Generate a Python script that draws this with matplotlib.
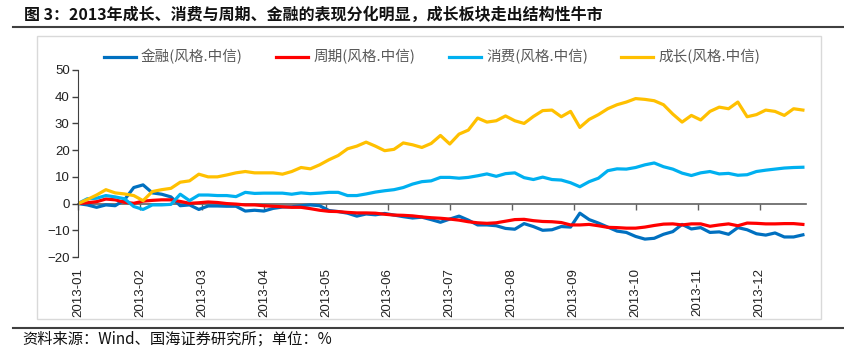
import numpy as np
import matplotlib
matplotlib.use('Agg')
import matplotlib.pyplot as plt
from matplotlib.patches import Rectangle
from matplotlib.lines import Line2D

plt.rcParams['font.family'] = ['Liberation Sans', 'Noto Sans CJK SC', 'DejaVu Sans']

# 数据：2013年各风格指数累计涨跌幅(%)，每3个交易日取一个点
step = 3
months = ['2013-01', '2013-02', '2013-03', '2013-04', '2013-05', '2013-06',
          '2013-07', '2013-08', '2013-09', '2013-10', '2013-11', '2013-12']
month_pos = [0, 20, 40, 60, 80, 100, 120, 140, 160, 180, 200, 220]

jinrong = [0, -0.5, -1.4, -0.5, -0.8, 1.4, 6.0, 7.0, 4.0, 3.5,
           2.5, -0.8, -0.5, -2.2, -0.9, -0.9, -1.0, -1.0, -2.8, -2.5,
           -2.8, -1.8, -1.3, -1.2, -0.8, -0.5, -0.8, -2.6, -3.0, -3.6,
           -4.7, -3.9, -4.2, -3.7, -4.3, -4.9, -5.4, -5.1, -6.0, -7.0,
           -5.8, -4.7, -6.2, -8.0, -8.0, -8.3, -9.3, -9.6, -7.5, -8.6,
           -10.0, -9.8, -8.6, -8.8, -3.6, -6.0, -7.3, -8.8, -10.3, -10.8,
           -12.3, -13.3, -13.0, -11.5, -10.5, -7.8, -9.5, -9.0, -10.8, -10.6,
           -11.5, -9.0, -9.8, -11.3, -11.8, -11.0, -12.5, -12.5, -11.7]

zhouqi = [0, 0.3, 0.7, 1.7, 1.4, 0.5, 0.1, 0.9, 1.2, 1.4,
          1.4, 0.8, 0.1, 0.3, 0.6, 0.4, 0.0, -0.2, -0.5, -0.5,
          -0.8, -1.0, -1.2, -1.4, -1.4, -1.9, -2.5, -2.9, -3.0, -3.3,
          -3.5, -3.5, -3.6, -4.0, -4.3, -4.4, -4.6, -5.0, -5.3, -5.5,
          -5.8, -6.2, -6.8, -7.2, -7.4, -7.2, -6.6, -6.0, -5.9, -6.4,
          -6.7, -6.8, -7.1, -8.0, -8.0, -7.8, -8.3, -8.9, -9.0, -9.2,
          -9.2, -8.8, -8.2, -7.7, -7.6, -8.0, -7.6, -7.6, -8.5, -8.0,
          -7.6, -8.3, -7.3, -7.4, -7.6, -7.6, -7.5, -7.5, -7.8]

xiaofei = [0, 1.8, 2.0, 3.0, 2.5, 1.8, -1.1, -2.2, -0.5, -0.5,
           -0.3, 3.5, 1.1, 3.2, 3.2, 3.0, 3.0, 2.6, 4.2, 3.8,
           3.9, 3.9, 3.9, 3.5, 4.0, 3.7, 3.9, 4.2, 4.2, 3.0,
           3.0, 3.6, 4.3, 4.8, 5.2, 6.0, 7.3, 8.2, 8.5, 9.8,
           9.8, 9.5, 9.8, 10.4, 11.1, 10.2, 11.2, 11.5, 9.7, 9.0,
           9.9, 9.0, 8.8, 7.8, 6.3, 8.2, 9.5, 12.3, 13.0, 12.9,
           13.5, 14.5, 15.2, 13.8, 12.9, 11.4, 10.5, 11.5, 12.0, 11.1,
           11.3, 10.6, 10.8, 12.0, 12.5, 12.9, 13.3, 13.5, 13.6]

chengzhang = [0, 1.5, 3.2, 5.2, 4.0, 3.6, 3.0, 1.1, 4.5, 5.2,
              5.7, 8.0, 8.5, 11.0, 10.0, 10.0, 10.7, 11.5, 12.0, 11.5,
              11.5, 11.5, 11.0, 12.0, 13.5, 13.0, 14.5, 16.4, 18.0, 20.5,
              21.5, 23.0, 21.5, 19.8, 20.3, 22.7, 22.0, 21.0, 22.5, 25.5,
              22.3, 26.0, 27.5, 32.0, 30.5, 31.0, 32.8, 31.0, 30.0, 32.6,
              34.8, 35.0, 32.5, 34.5, 28.5, 31.5, 33.3, 35.5, 37.0, 38.0,
              39.3, 39.0, 38.5, 37.0, 33.5, 30.5, 33.0, 31.3, 34.5, 36.1,
              35.5, 38.0, 32.5, 33.3, 35.0, 34.5, 33.0, 35.5, 35.0]

names = ['金融(风格.中信)', '周期(风格.中信)', '消费(风格.中信)', '成长(风格.中信)']
colors = ['#0070C0', '#FF0000', '#00B0F0', '#FFC000']

x = np.arange(len(jinrong)) * step

fig = plt.figure(figsize=(8.45, 3.56), dpi=100)
ax = fig.add_axes([78 / 845, 1 - 257 / 356, (806 - 78) / 845, 187 / 356])

for vals, name, c in zip([jinrong, zhouqi, xiaofei, chengzhang], names, colors):
    ax.plot(x, vals, color=c, lw=2.3, label=name, solid_joinstyle='round')

ax.set_xlim(0, x[-1] + 1)
ax.set_ylim(-20, 50)
ax.set_yticks(range(-20, 51, 10))
ax.set_xticks(month_pos)
ax.set_xticklabels(months, rotation=90)
ax.tick_params(axis='x', length=0, pad=8, labelsize=9.5, labelcolor='#222222')
ax.tick_params(axis='y', length=4, width=1, direction='out', color='#404040',
               labelsize=9.5, labelcolor='#222222', pad=2)
for s in ['top', 'right', 'bottom']:
    ax.spines[s].set_visible(False)
ax.spines['left'].set_color('#404040')

# 零轴及刻度线
sec = ax.secondary_xaxis(20 / 70)
sec.set_xticks(month_pos)
sec.tick_params(axis='x', length=4, width=1, color='#606060', labelbottom=False)
sec.spines['bottom'].set_color('#606060')
sec.spines['bottom'].set_linewidth(1.2)

leg = fig.legend(loc='center', bbox_to_anchor=(432 / 845, 1 - 57 / 356), ncol=4,
                 frameon=False, handlelength=2.2, handletextpad=0.35,
                 columnspacing=2.3,
                 prop={'family': ['Noto Sans CJK SC'], 'size': 10.5})
for t in leg.get_texts():
    t.set_color('#595959')

# 外框和标题线
fig.patches.append(Rectangle((37 / 845, 1 - 319 / 356), (821 - 37) / 845, (319 - 36) / 356,
                             transform=fig.transFigure, fill=False,
                             edgecolor='#D9D9D9', lw=1))
fig.lines.append(Line2D([13 / 845, 1], [1 - 27 / 356, 1 - 27 / 356],
                        transform=fig.transFigure, color='#404040', lw=1.5))
fig.lines.append(Line2D([13 / 845, 1], [1 - 328 / 356, 1 - 328 / 356],
                        transform=fig.transFigure, color='#404040', lw=1.5))

fig.text(24 / 845, 1 - 15 / 356, '图 3：2013年成长、消费与周期、金融的表现分化明显，成长板块走出结构性牛市',
         family=['Noto Sans CJK SC'], fontweight='bold', fontsize=11.5,
         va='center', ha='left', color='#111111')
fig.text(22 / 845, 1 - 339 / 356, '资料来源：Wind、国海证券研究所；单位：%',
         family=['Noto Sans CJK SC'], fontsize=11, va='center', ha='left',
         color='#111111')

fig.savefig('out.png', dpi=100)
